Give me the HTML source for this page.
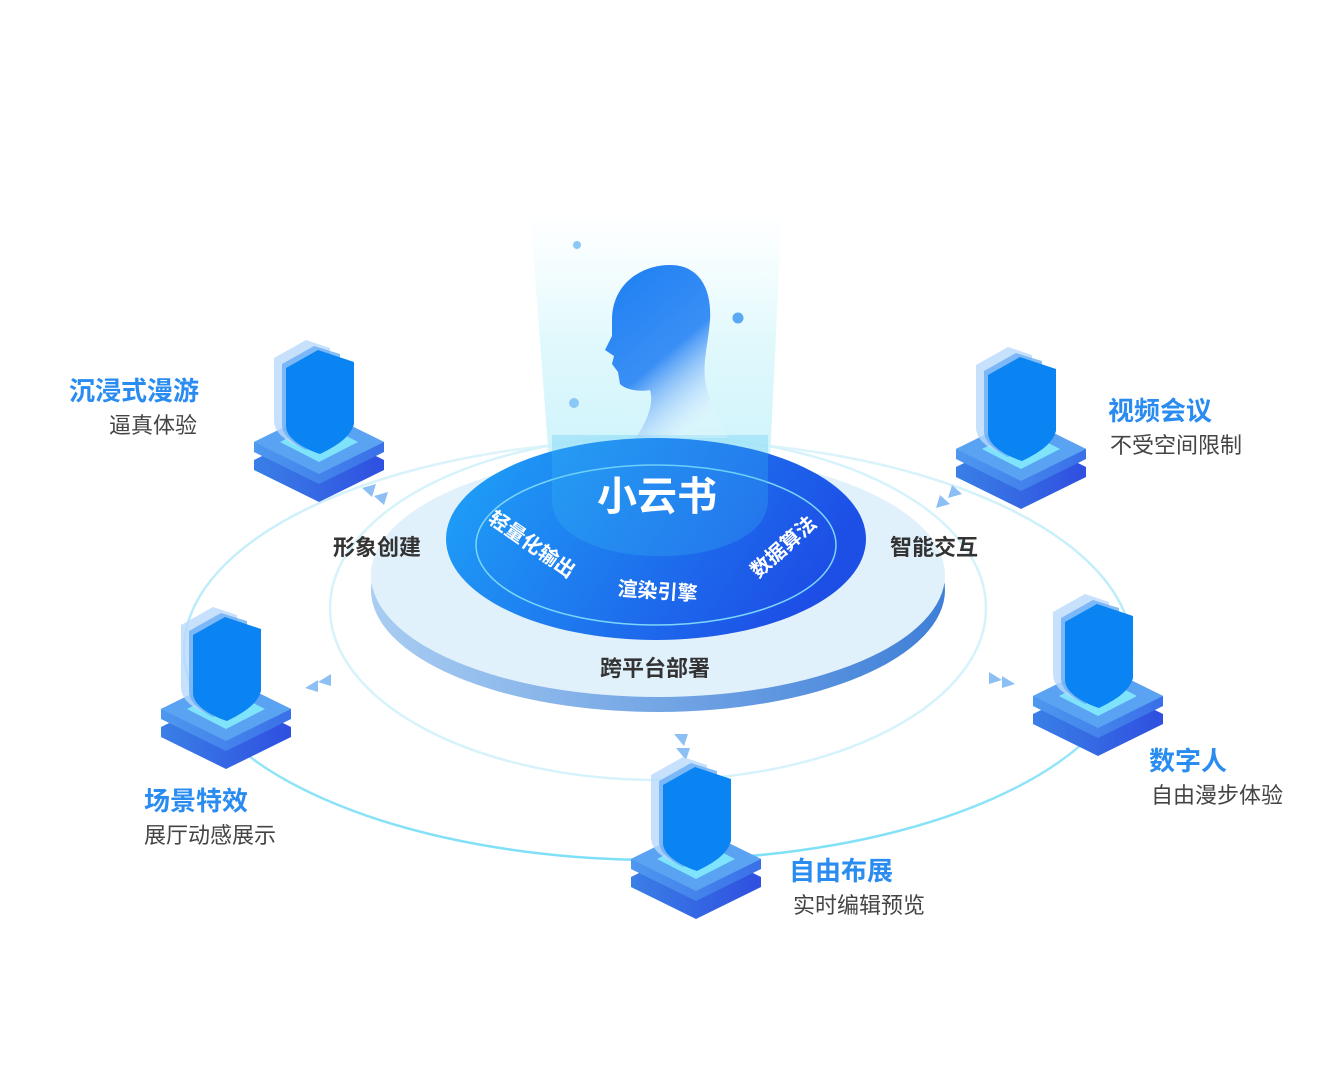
<!DOCTYPE html>
<html><head><meta charset="utf-8"><style>
html,body{margin:0;padding:0;background:#fff;}
body{width:1326px;height:1064px;overflow:hidden;font-family:"Liberation Sans","Noto Sans CJK SC",sans-serif;}
</style></head><body>
<svg width="1326" height="1064" viewBox="0 0 1326 1064" xmlns="http://www.w3.org/2000/svg">
<defs>
<linearGradient id="beam" x1="0" y1="0" x2="0" y2="1">
<stop offset="0" stop-color="#e6fbff" stop-opacity="0"/>
<stop offset="0.4" stop-color="#d8f7fb" stop-opacity="0.8"/>
<stop offset="1" stop-color="#b9eefa" stop-opacity="0.9"/>
</linearGradient>
<linearGradient id="core" x1="0" y1="0" x2="1" y2="0.3">
<stop offset="0" stop-color="#1ea5f8"/>
<stop offset="1" stop-color="#1d4fe6"/>
</linearGradient>
<linearGradient id="disk" x1="0" y1="0" x2="1" y2="0">
<stop offset="0" stop-color="#a9cdf2"/>
<stop offset="1" stop-color="#3f7fd8"/>
</linearGradient>
<linearGradient id="head" x1="0" y1="0" x2="0.6" y2="1">
<stop offset="0" stop-color="#1b7ef2"/>
<stop offset="0.6" stop-color="#3a8ff5"/>
<stop offset="1" stop-color="#e8f4ff" stop-opacity="0.3"/>
</linearGradient>
<linearGradient id="ring" x1="0" y1="0" x2="0" y2="1">
<stop offset="0" stop-color="#dff4fb"/>
<stop offset="1" stop-color="#7de0f7"/>
</linearGradient>
<linearGradient id="base1" x1="0" y1="0" x2="1" y2="0">
<stop offset="0" stop-color="#4e98ef"/>
<stop offset="1" stop-color="#3a6fe8"/>
</linearGradient>
<linearGradient id="base2" x1="0" y1="0" x2="1" y2="0">
<stop offset="0" stop-color="#3a7fe6"/>
<stop offset="1" stop-color="#2f4fe0"/>
</linearGradient>
<g id="icon">
<path d="M0,124 L65,92 L130,124 L130,134 L65,166 L0,134 Z" fill="url(#base2)"/>
<path d="M0,106 L65,74 L130,106 L130,116 L65,148 L0,116 Z" fill="url(#base1)"/>
<path d="M0,106 L65,74 L130,106 L65,138 Z" fill="#5aa2f2"/>
<path d="M26,106 L65,86 L104,106 L65,126 Z" fill="#7fe4fb"/>
<path d="M20,22 L52,4 L76,12 L76,80 C72,96 58,104 44,110 C30,104 20,96 20,84 Z" fill="#b9d9fb" opacity="0.8"/>
<path d="M28,28 L60,10 L86,18 L86,86 C82,100 66,108 52,114 C40,108 28,100 28,88 Z" fill="#69aef5" opacity="0.8"/>
<path d="M32,32 L64,14 L100,26 L100,88 C96,102 82,110 66,118 C48,112 32,102 32,90 Z" fill="#0a84f2"/>
</g>
</defs>

<ellipse cx="658" cy="650" rx="474" ry="210" fill="none" stroke="url(#ring)" stroke-width="2.5"/>
<ellipse cx="658" cy="608" rx="328" ry="172" fill="none" stroke="#d6f3fb" stroke-width="2.5"/>

<ellipse cx="658" cy="590" rx="287" ry="122" fill="url(#disk)"/>
<ellipse cx="658" cy="575" rx="287" ry="122" fill="#e1f1fc"/>

<path d="M530,210 L782,210 L768,500 C768,560 552,560 552,500 Z" fill="url(#beam)"/>

<ellipse cx="656" cy="539" rx="210" ry="101" fill="url(#core)"/>
<ellipse cx="656" cy="545" rx="180" ry="80" fill="none" stroke="#7cd6fb" stroke-width="1.5"/>
<path d="M552,435 L768,435 L768,500 C768,575 552,575 552,500 Z" fill="#3cc0f5" opacity="0.25"/>

<path d="M612,320 C612,285 640,265 670,265 C700,265 712,290 710,320 C708,345 703,360 705,380 C708,400 718,420 728,438 L636,438 C648,420 654,402 650,390 C640,392 626,390 620,384 L618,372 L612,364 L614,356 L605,350 L612,336 Z" fill="url(#head)"/>
<circle cx="577" cy="245" r="4" fill="#8cc8f7"/>
<circle cx="738" cy="318" r="5.5" fill="#5aa9f3"/>
<circle cx="574" cy="403" r="5" fill="#8cc8f7"/>

<text x="657" y="510" font-size="40" font-weight="bold" fill="#fff" text-anchor="middle">小云书</text>
<text x="528" y="550" font-size="20" font-weight="bold" fill="#fff" text-anchor="middle" transform="rotate(35 528 550)">轻量化输出</text>
<text x="657" y="598" font-size="20" font-weight="bold" fill="#fff" text-anchor="middle" transform="rotate(4 657 598)">渲染引擎</text>
<text x="788" y="552" font-size="20" font-weight="bold" fill="#fff" text-anchor="middle" transform="rotate(-42 788 552)">数据算法</text>

<text x="377" y="555" font-size="22" font-weight="bold" fill="#333" text-anchor="middle">形象创建</text>
<text x="934" y="555" font-size="22" font-weight="bold" fill="#333" text-anchor="middle">智能交互</text>
<text x="655" y="676" font-size="22" font-weight="bold" fill="#333" text-anchor="middle">跨平台部署</text>

<g fill="#8cc0f5">
<path d="M362,488 L376,484 L372,497 Z"/><path d="M374,496 L388,492 L384,505 Z"/>
<path d="M962,494 L948,498 L952,485 Z"/><path d="M950,504 L936,508 L940,495 Z"/>
<path d="M305,688 L318,680 L318,692 Z"/><path d="M318,682 L331,674 L331,686 Z"/>
<path d="M1015,684 L1002,676 L1002,688 Z"/><path d="M1002,680 L989,672 L989,684 Z"/>
<path d="M686,760 L676,748 L690,748 Z"/><path d="M684,746 L674,734 L688,734 Z"/>
</g>

<use href="#icon" x="254" y="336"/>
<use href="#icon" x="956" y="343"/>
<use href="#icon" x="161" y="603"/>
<use href="#icon" x="1033" y="590"/>
<use href="#icon" x="631" y="753"/>

<g font-size="26" font-weight="bold" fill="#2a8cf0">
<text x="69" y="400">沉浸式漫游</text>
<text x="1108" y="420">视频会议</text>
<text x="144" y="810">场景特效</text>
<text x="1149" y="770">数字人</text>
<text x="789" y="880">自由布展</text>
</g>
<g font-size="22" fill="#444">
<text x="109" y="433">逼真体验</text>
<text x="1110" y="453">不受空间限制</text>
<text x="144" y="843">展厅动感展示</text>
<text x="1151" y="803">自由漫步体验</text>
<text x="793" y="913">实时编辑预览</text>
</g>
</svg>
</body></html>
